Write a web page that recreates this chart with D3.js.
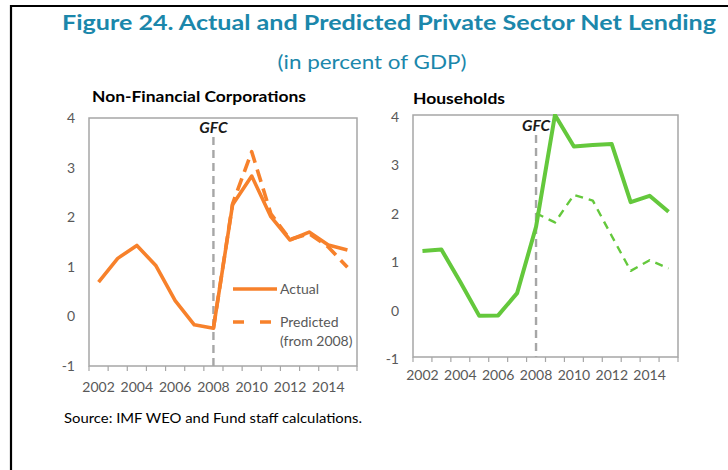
<!DOCTYPE html>
<html>
<head>
<meta charset="utf-8">
<script src="https://cdn.jsdelivr.net/npm/d3@7"></script>
<style>
  html, body { margin: 0; padding: 0; background: #fff; }
  svg { display: block; font-family: Lato, "Open Sans", sans-serif; }
</style>
</head>
<body>
<svg id="fig" width="728" height="470"></svg>
<script>
// Years on the category axis
const years = [2002, 2003, 2004, 2005, 2006, 2007, 2008, 2009, 2010, 2011, 2012, 2013, 2014, 2015];
const yearLabels = ["2002", "2004", "2006", "2008", "2010", "2012", "2014"];
const yTicks = [-1, 0, 1, 2, 3, 4];

// Non-financial corporations, net lending (% of GDP)
const nfcActual = [0.69, 1.17, 1.43, 1.02, 0.32, -0.17, -0.24, 2.25, 2.83, 2.01, 1.54, 1.70, 1.44, 1.34];
// projection path starting in 2008
const nfcPredicted = [null, null, null, null, null, null, -0.24, 2.27, 3.32, 2.07, 1.55, 1.67, 1.40, 0.99];

// Households, net lending (% of GDP)
const hhActual = [1.19, 1.22, 0.55, -0.15, -0.14, 0.32, 1.69, 4.0, 3.35, 3.38, 3.40, 2.20, 2.33, 2.0];
const hhPredicted = [null, null, null, null, null, null, 1.97, 1.78, 2.35, 2.23, 1.50, 0.78, 1.00, 0.83];

const gfcYear = 2008;

const svg = d3.select("#fig");
const teal = "#1b87ab";
const tickGrey = "#595959";
const frameGrey = "#a6a6a6";
const tickFont = "Lato, 'Open Sans', sans-serif";

// outer frame (left and top rules)
svg.append("line").attr("x1", 11).attr("x2", 11).attr("y1", 5).attr("y2", 470)
  .attr("stroke", "#000").attr("stroke-width", 2.2);
svg.append("line").attr("x1", 10).attr("x2", 728).attr("y1", 6).attr("y2", 6)
  .attr("stroke", "#000").attr("stroke-width", 2.2);

// headings
svg.append("text").attr("x", 389).attr("y", 30).attr("text-anchor", "middle")
  .attr("font-weight", "bold").attr("font-size", 21.5).attr("fill", teal)
  .attr("textLength", 654).attr("lengthAdjust", "spacingAndGlyphs")
  .text("Figure 24. Actual and Predicted Private Sector Net Lending");
svg.append("text").attr("x", 372).attr("y", 69).attr("text-anchor", "middle")
  .attr("font-size", 19.5).attr("fill", teal)
  .attr("textLength", 189).attr("lengthAdjust", "spacingAndGlyphs")
  .text("(in percent of GDP)");

svg.append("text").attr("x", 64).attr("y", 423)
  .attr("font-size", 14).attr("fill", "#000")
  .attr("textLength", 298).attr("lengthAdjust", "spacingAndGlyphs")
  .text("Source: IMF WEO and Fund staff calculations.");

function panel(opts) {
  const { x0, x1, y0, y1, title, titleX, titleY, titleW, actual, predicted,
          color, solidW, dashW, dash, yLabelX, yLabelShift, xLabelY, gfcLabelY, gfcTop } = opts;
  const g = svg.append("g");

  const x = d3.scaleBand().domain(years).range([x0, x1]).padding(0);
  const y = d3.scaleLinear().domain([-1, 4]).range([y1, y0]);
  const cx = d => x(d) + x.bandwidth() / 2;

  // panel title
  g.append("text").attr("x", titleX).attr("y", titleY)
    .attr("font-weight", "bold").attr("font-size", 15).attr("fill", "#000")
    .attr("textLength", titleW).attr("lengthAdjust", "spacingAndGlyphs")
    .text(title);

  // plot frame
  g.append("rect").attr("x", x0).attr("y", y0)
    .attr("width", x1 - x0).attr("height", y1 - y0)
    .attr("fill", "none").attr("stroke", frameGrey).attr("stroke-width", 1.5);

  // category tick marks at band edges
  const edges = years.map(d => x(d)).concat([x1]);
  g.selectAll("line.xt").data(edges).join("line").attr("class", "xt")
    .attr("x1", d => d).attr("x2", d => d).attr("y1", y1).attr("y2", y1 + 5)
    .attr("stroke", frameGrey).attr("stroke-width", 1.2);

  // x labels (every other year)
  const xAxis = d3.axisBottom(x).tickValues(yearLabels.map(Number)).tickSize(0).tickPadding(0);
  const xa = g.append("g").attr("transform", `translate(0,${xLabelY})`).call(xAxis);
  xa.select(".domain").remove();
  xa.selectAll("text").attr("font-size", 14).attr("fill", tickGrey)
    .attr("font-family", tickFont).attr("dy", 0);

  // y labels
  const yAxis = d3.axisLeft(y).tickValues(yTicks).tickSize(0).tickPadding(0)
    .tickFormat(d => String(d));
  const ya = g.append("g").attr("transform", `translate(${yLabelX},${yLabelShift})`).call(yAxis);
  ya.select(".domain").remove();
  ya.selectAll("text").attr("font-size", 14).attr("fill", tickGrey)
    .attr("font-family", tickFont);

  // GFC marker
  g.append("line").attr("x1", cx(gfcYear)).attr("x2", cx(gfcYear))
    .attr("y1", gfcTop).attr("y2", y1)
    .attr("stroke", frameGrey).attr("stroke-width", 2.4).attr("stroke-dasharray", "8,5");
  g.append("text").attr("x", cx(gfcYear)).attr("y", gfcLabelY).attr("text-anchor", "middle")
    .attr("font-weight", "bold").attr("font-style", "italic").attr("font-size", 15.5)
    .attr("fill", "#1a1a1a").text("GFC");

  const line = d3.line()
    .defined(d => d.v !== null)
    .x(d => cx(d.year))
    .y(d => y(d.v));

  const clipId = "clip" + Math.round(x0);
  g.append("clipPath").attr("id", clipId).append("rect")
    .attr("x", x0).attr("y", y0 - 1).attr("width", x1 - x0).attr("height", y1 - y0 + 2);

  g.append("path").datum(years.map((yr, i) => ({ year: yr, v: predicted[i] })))
    .attr("d", line).attr("fill", "none").attr("stroke", color)
    .attr("stroke-width", dashW).attr("stroke-dasharray", dash)
    .attr("stroke-linejoin", "round").attr("clip-path", `url(#${clipId})`);
  g.append("path").datum(years.map((yr, i) => ({ year: yr, v: actual[i] })))
    .attr("d", line).attr("fill", "none").attr("stroke", color)
    .attr("stroke-width", solidW).attr("stroke-linejoin", "round")
    .attr("clip-path", `url(#${clipId})`);

  return { g, x, y };
}

const orange = "#f7812b";
const green = "#64c83c";

const left = panel({
  x0: 89, x1: 357, y0: 118, y1: 366,
  title: "Non-Financial Corporations", titleX: 92, titleY: 101.5, titleW: 214,
  actual: nfcActual, predicted: nfcPredicted,
  color: orange, solidW: 3.6, dashW: 3.6, dash: "13,7",
  yLabelX: 75, yLabelShift: 0, xLabelY: 392, gfcLabelY: 133, gfcTop: 137
});

panel({
  x0: 413, x1: 678, y0: 115, y1: 357,
  title: "Households", titleX: 413, titleY: 104, titleW: 92,
  actual: hhActual, predicted: hhPredicted,
  color: green, solidW: 4, dashW: 2.4, dash: "8,6",
  yLabelX: 399, yLabelShift: 2, xLabelY: 380, gfcLabelY: 131, gfcTop: 135
});

// legend inside the corporations panel
const lg = left.g.append("g");
lg.append("line").attr("x1", 233).attr("x2", 277).attr("y1", 289).attr("y2", 289)
  .attr("stroke", orange).attr("stroke-width", 3.6);
lg.append("text").attr("x", 280).attr("y", 294).attr("font-size", 14).attr("fill", tickGrey)
  .text("Actual");
lg.append("line").attr("x1", 233).attr("x2", 277).attr("y1", 322).attr("y2", 322)
  .attr("stroke", orange).attr("stroke-width", 3.6).attr("stroke-dasharray", "11,16");
lg.append("text").attr("x", 280).attr("y", 327).attr("font-size", 14).attr("fill", tickGrey)
  .text("Predicted");
lg.append("text").attr("x", 280).attr("y", 346).attr("font-size", 14).attr("fill", tickGrey)
  .text("(from 2008)");
</script>
</body>
</html>
